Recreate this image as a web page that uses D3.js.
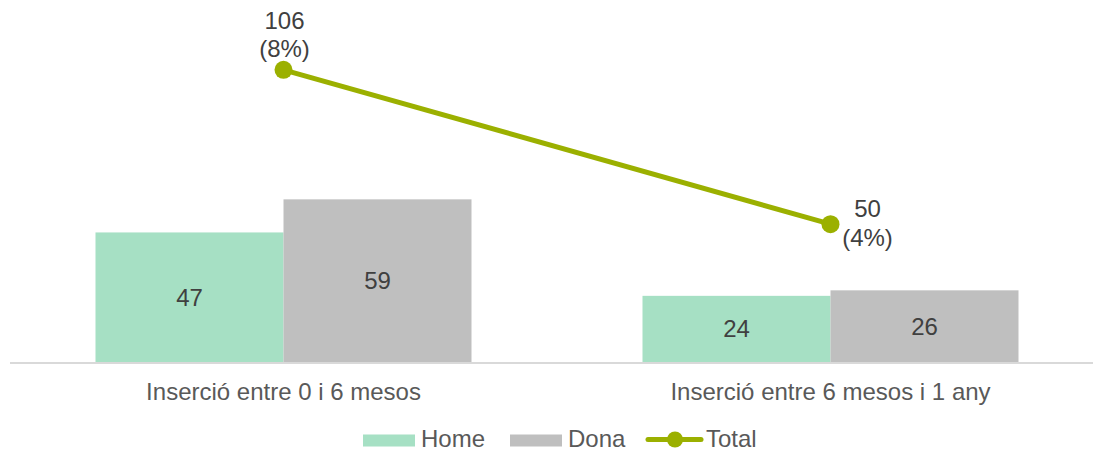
<!DOCTYPE html>
<html>
<head>
<meta charset="utf-8">
<script src="https://cdn.jsdelivr.net/npm/d3@7"></script>
<style>
  html, body { margin: 0; padding: 0; background: #ffffff; }
  svg { display: block; font-family: "Liberation Sans", Arial, sans-serif; }
</style>
</head>
<body>
<svg id="chart" width="1094" height="452"></svg>
<script>
const categories = ["Inserció entre 0 i 6 mesos", "Inserció entre 6 mesos i 1 any"];
const seriesNames = ["Home", "Dona"];
const homeValues = [47, 24];
const donaValues = [59, 26];
const totalValues = [106, 50];
const totalPercentLabels = ["(8%)", "(4%)"];
const legendLabels = ["Home", "Dona", "Total"];

const colors = { Home: "#a6e0c4", Dona: "#bfbfbf", Total: "#9bb000" };
const fontSize = 24;

const svg = d3.select("#chart");

const x0 = d3.scaleBand().domain(categories).range([10, 1104]).paddingInner(0).paddingOuter(0);
const x1 = d3.scaleBand().domain(seriesNames).range([0, x0.bandwidth()]).paddingInner(0).paddingOuter(0.4548);
const y = d3.scaleLinear().domain([0, 120]).range([362, 362 - 330.8]);

const seriesValues = { Home: homeValues, Dona: donaValues };

// bars
const groups = svg.append("g").selectAll("g")
  .data(categories)
  .join("g")
  .attr("transform", d => `translate(${x0(d)},0)`);

groups.selectAll("rect")
  .data((c, i) => seriesNames.map(s => ({ s, v: seriesValues[s][i] })))
  .join("rect")
  .attr("x", d => x1(d.s))
  .attr("width", x1.bandwidth())
  .attr("y", d => y(d.v))
  .attr("height", d => y(0) - y(d.v))
  .attr("fill", d => colors[d.s]);

groups.selectAll("text.val")
  .data((c, i) => seriesNames.map(s => ({ s, v: seriesValues[s][i] })))
  .join("text")
  .attr("class", "val")
  .attr("x", d => x1(d.s) + x1.bandwidth() / 2)
  .attr("y", d => (y(d.v) + y(0)) / 2)
  .attr("dy", "0.35em")
  .attr("text-anchor", "middle")
  .attr("font-size", fontSize)
  .attr("fill", "#404040")
  .text(d => d.v);

// axis line
svg.append("line")
  .attr("x1", 10).attr("x2", 1093)
  .attr("y1", y(0) + 1).attr("y2", y(0) + 1)
  .attr("stroke", "#d9d9d9").attr("stroke-width", 2);

// category labels via axis
const xAxis = d3.axisBottom(x0).tickSize(0).tickPadding(0);
const axG = svg.append("g").attr("transform", `translate(0,${y(0)})`).call(xAxis);
axG.select(".domain").remove();
axG.selectAll("text")
  .attr("font-size", fontSize)
  .attr("font-family", "Liberation Sans, Arial, sans-serif")
  .attr("fill", "#595959")
  .attr("dy", null)
  .attr("y", 38);

// total line
const pts = categories.map((c, i) => ({ x: x0(c) + x0.bandwidth() / 2, y: y(totalValues[i]), v: totalValues[i], p: totalPercentLabels[i], i }));
svg.append("path")
  .datum(pts)
  .attr("d", d3.line().x(d => d.x).y(d => d.y))
  .attr("fill", "none")
  .attr("stroke", colors.Total)
  .attr("stroke-width", 5);
svg.selectAll("circle.pt")
  .data(pts)
  .join("circle")
  .attr("class", "pt")
  .attr("cx", d => d.x).attr("cy", d => d.y)
  .attr("r", 9)
  .attr("fill", colors.Total);

// total labels
const tl = svg.selectAll("text.tot")
  .data(pts)
  .join("text")
  .attr("class", "tot")
  .attr("font-size", fontSize)
  .attr("fill", "#404040")
  .attr("text-anchor", "middle");
tl.each(function(d) {
  const t = d3.select(this);
  let cx, b1;
  if (d.i === 0) { cx = d.x + 1; b1 = d.y - 41; }
  else { cx = d.x + 37; b1 = d.y - 7; }
  t.append("tspan").attr("x", cx).attr("y", b1).text(d.v);
  t.append("tspan").attr("x", cx).attr("y", b1 + 28.5).text(d.p);
});

// legend
const lg = svg.append("g");
const legendY = 439.5;
// Home
lg.append("rect").attr("x", 363).attr("y", legendY - 5).attr("width", 52).attr("height", 12).attr("fill", colors.Home);
lg.append("text").attr("x", 421).attr("y", legendY).attr("dy", "0.31em").attr("font-size", fontSize).attr("fill", "#595959").text(legendLabels[0]);
// Dona
lg.append("rect").attr("x", 510).attr("y", legendY - 5).attr("width", 52).attr("height", 12).attr("fill", colors.Dona);
lg.append("text").attr("x", 568).attr("y", legendY).attr("dy", "0.31em").attr("font-size", fontSize).attr("fill", "#595959").text(legendLabels[1]);
// Total
lg.append("line").attr("x1", 648).attr("x2", 701).attr("y1", legendY).attr("y2", legendY).attr("stroke", colors.Total).attr("stroke-width", 5).attr("stroke-linecap", "round");
lg.append("circle").attr("cx", 675).attr("cy", legendY).attr("r", 8).attr("fill", colors.Total);
lg.append("text").attr("x", 706).attr("y", legendY).attr("dy", "0.31em").attr("font-size", fontSize).attr("fill", "#595959").text(legendLabels[2]);
</script>
</body>
</html>
